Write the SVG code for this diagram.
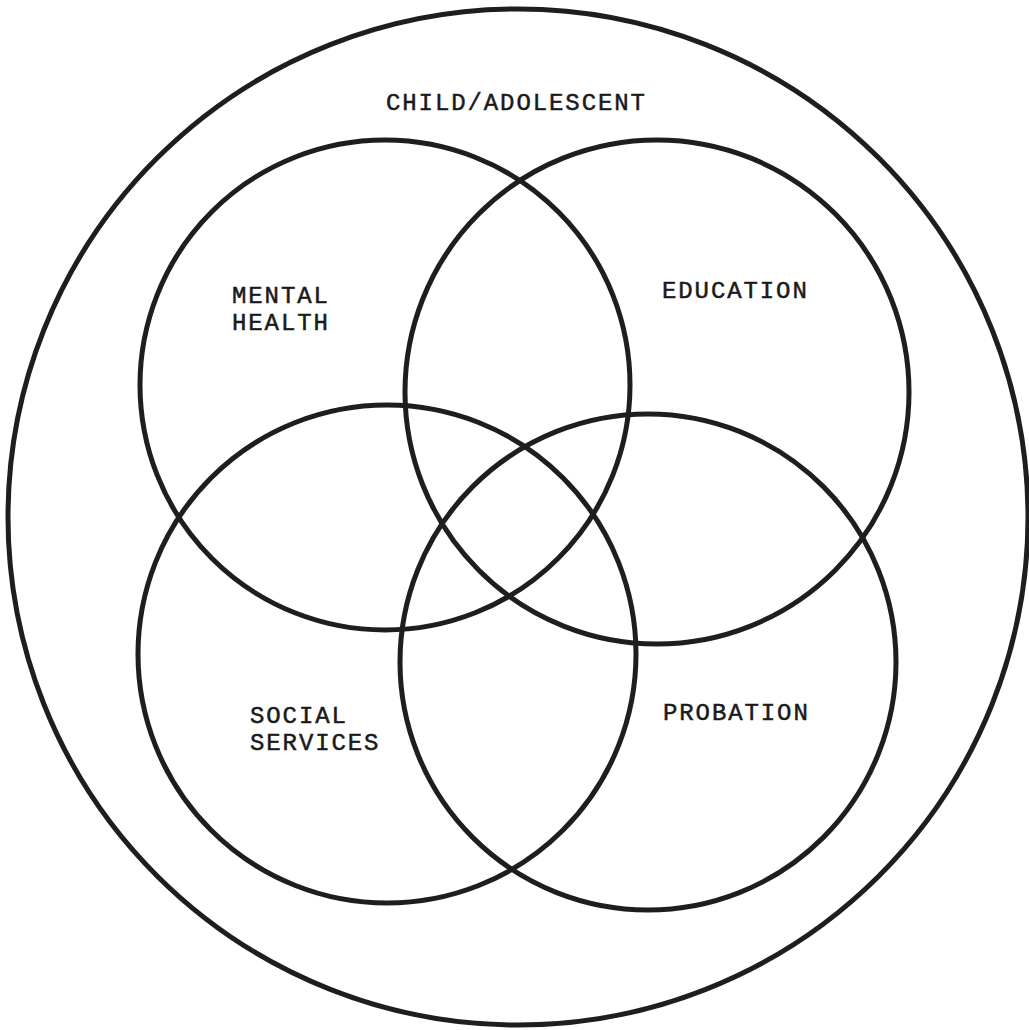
<svg xmlns="http://www.w3.org/2000/svg" width="1029" height="1030" viewBox="0 0 1029 1030">
<style>
.ring{fill:none;stroke:#1e1e1e;stroke-width:5}
.lbl{font-family:"Liberation Mono","DejaVu Sans Mono",monospace;font-size:24px;letter-spacing:1.9px;fill:#1a1a1a;stroke:#1a1a1a;stroke-width:0.5}
</style>
<rect width="1029" height="1030" fill="#ffffff"/>
<g id="child-adolescent">
<ellipse class="ring" cx="518" cy="517" rx="510" ry="508"/>
<text class="lbl" x="386" y="110">CHILD/ADOLESCENT</text>
</g>
<g id="mental-health">
<circle class="ring" cx="385" cy="385" r="245"/>
<text class="lbl" x="232" y="303">MENTAL</text>
<text class="lbl" x="232" y="330">HEALTH</text>
</g>
<g id="education">
<circle class="ring" cx="657" cy="392" r="252"/>
<text class="lbl" x="662" y="298">EDUCATION</text>
</g>
<g id="social-services">
<circle class="ring" cx="387" cy="654" r="249"/>
<text class="lbl" x="250" y="723">SOCIAL</text>
<text class="lbl" x="250" y="750">SERVICES</text>
</g>
<g id="probation">
<circle class="ring" cx="648" cy="662" r="248"/>
<text class="lbl" x="663" y="720">PROBATION</text>
</g>
<g id="connectors"></g>
</svg>
